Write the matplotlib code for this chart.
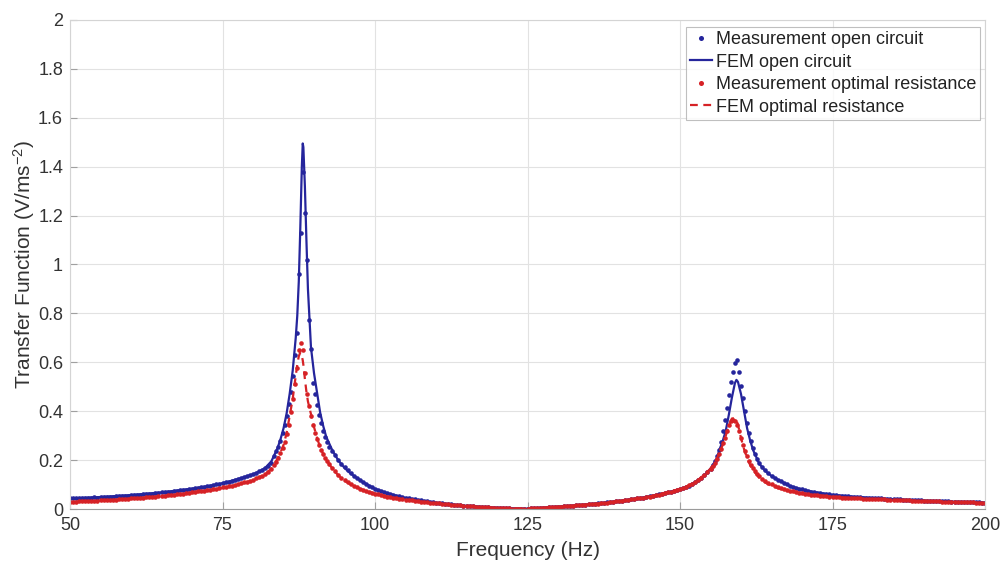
import matplotlib
matplotlib.use("Agg")
import matplotlib.pyplot as plt
from matplotlib.ticker import FormatStrFormatter

# ---- measured data (Hz, V/ms^-2) ----
f_meas = [
    50.0, 50.5, 51.0, 51.5, 52.0, 52.5, 53.0, 53.5, 54.0, 54.5,
    55.0, 55.5, 56.0, 56.5, 57.0, 57.5, 58.0, 58.5, 59.0, 59.5,
    60.0, 60.5, 61.0, 61.5, 62.0, 62.5, 63.0, 63.5, 64.0, 64.5,
    65.0, 65.5, 66.0, 66.5, 67.0, 67.5, 68.0, 68.5, 69.0, 69.5,
    70.0, 70.5, 71.0, 71.5, 72.0, 72.5, 73.0, 73.5, 74.0, 74.5,
    75.0, 75.5, 76.0, 76.5, 77.0, 77.5, 78.0, 78.5, 79.0, 79.5,
    80.0, 80.5, 81.0, 81.5, 82.0, 82.5, 83.0,
    83.5, 83.83, 84.17, 84.5, 84.83, 85.17, 85.5, 85.83, 86.17, 86.5,
    86.83, 87.17, 87.5, 87.83, 88.17, 88.5, 88.83, 89.17, 89.5, 89.83,
    90.17, 90.5, 90.83, 91.17, 91.5, 91.83, 92.17, 92.5,
    93.0, 93.5, 94.0, 94.5, 95.0, 95.5, 96.0, 96.5, 97.0, 97.5,
    98.0, 98.5, 99.0, 99.5, 100.0, 100.5, 101.0, 101.5, 102.0, 102.5,
    103.0, 103.5, 104.0, 104.5, 105.0, 105.5, 106.0, 106.5, 107.0, 107.5,
    108.0, 108.5, 109.0, 109.5, 110.0, 110.5, 111.0, 111.5, 112.0, 112.5,
    113.0, 113.5, 114.0, 114.5, 115.0, 115.5, 116.0, 116.5, 117.0, 117.5,
    118.0, 118.5, 119.0, 119.5, 120.0, 120.5, 121.0, 121.5, 122.0, 122.5,
    123.0, 123.5, 124.0, 124.5, 125.0, 125.5, 126.0, 126.5, 127.0, 127.5,
    128.0, 128.5, 129.0, 129.5, 130.0, 130.5, 131.0, 131.5, 132.0, 132.5,
    133.0, 133.5, 134.0, 134.5, 135.0, 135.5, 136.0, 136.5, 137.0, 137.5,
    138.0, 138.5, 139.0, 139.5, 140.0, 140.5, 141.0, 141.5, 142.0, 142.5,
    143.0, 143.5, 144.0, 144.5, 145.0, 145.5, 146.0, 146.5, 147.0, 147.5,
    148.0, 148.5, 149.0, 149.5, 150.0, 150.5, 151.0, 151.5, 152.0, 152.5,
    153.0, 153.5, 154.0, 154.5, 155.0,
    155.33, 155.67, 156.0, 156.33, 156.67, 157.0, 157.33, 157.67, 158.0, 158.33,
    158.67, 159.0, 159.33, 159.67, 160.0, 160.33, 160.67, 161.0, 161.33, 161.67,
    162.0, 162.33, 162.67,
    163.0, 163.5, 164.0, 164.5, 165.0, 165.5, 166.0, 166.5, 167.0, 167.5,
    168.0, 168.5, 169.0, 169.5, 170.0, 170.5, 171.0, 171.5, 172.0, 172.5,
    173.0, 173.5, 174.0, 174.5, 175.0, 175.5, 176.0, 176.5, 177.0, 177.5,
    178.0, 178.5, 179.0, 179.5, 180.0, 180.5, 181.0, 181.5, 182.0, 182.5,
    183.0, 183.5, 184.0, 184.5, 185.0, 185.5, 186.0, 186.5, 187.0, 187.5,
    188.0, 188.5, 189.0, 189.5, 190.0, 190.5, 191.0, 191.5, 192.0, 192.5,
    193.0, 193.5, 194.0, 194.5, 195.0, 195.5, 196.0, 196.5, 197.0, 197.5,
    198.0, 198.5, 199.0, 199.5, 200.0,
]

meas_open = [
    0.044, 0.045, 0.044, 0.045, 0.046, 0.045, 0.047, 0.046, 0.048, 0.047,
    0.049, 0.049, 0.050, 0.051, 0.051, 0.052, 0.053, 0.053, 0.055, 0.055,
    0.057, 0.057, 0.058, 0.059, 0.060, 0.061, 0.062, 0.063, 0.065, 0.066,
    0.068, 0.068, 0.070, 0.071, 0.073, 0.074, 0.076, 0.077, 0.079, 0.081,
    0.083, 0.085, 0.087, 0.089, 0.091, 0.093, 0.096, 0.098, 0.101, 0.103,
    0.106, 0.109, 0.112, 0.116, 0.119, 0.123, 0.127, 0.131, 0.135, 0.139,
    0.143, 0.148, 0.154, 0.160, 0.168, 0.177, 0.188,
    0.218, 0.236, 0.255, 0.280, 0.310, 0.345, 0.380, 0.430, 0.480, 0.545,
    0.630, 0.720, 0.960, 1.130, 1.380, 1.210, 1.020, 0.775, 0.655, 0.515,
    0.470, 0.425, 0.385, 0.350, 0.320, 0.295, 0.272, 0.255,
    0.238, 0.220, 0.200, 0.185, 0.170, 0.158, 0.146, 0.136, 0.127, 0.119,
    0.111, 0.104, 0.096, 0.090, 0.083, 0.079, 0.074, 0.070, 0.065, 0.062,
    0.058, 0.055, 0.052, 0.049, 0.046, 0.043, 0.041, 0.039, 0.036, 0.035,
    0.033, 0.031, 0.029, 0.027, 0.026, 0.024, 0.023, 0.021, 0.020, 0.019,
    0.018, 0.017, 0.015, 0.014, 0.013, 0.012, 0.011, 0.010, 0.009, 0.009,
    0.008, 0.007, 0.006, 0.006, 0.005, 0.004, 0.004, 0.003, 0.003, 0.002,
    0.002, 0.001, 0.001, 0.002, 0.002, 0.003, 0.003, 0.004, 0.005, 0.005,
    0.006, 0.007, 0.008, 0.009, 0.009, 0.010, 0.011, 0.012, 0.013, 0.014,
    0.015, 0.016, 0.017, 0.018, 0.019, 0.020, 0.022, 0.023, 0.024, 0.025,
    0.027, 0.028, 0.029, 0.031, 0.032, 0.034, 0.036, 0.037, 0.039, 0.041,
    0.043, 0.045, 0.047, 0.049, 0.052, 0.054, 0.057, 0.060, 0.062, 0.065,
    0.068, 0.071, 0.074, 0.077, 0.081, 0.085, 0.090, 0.096, 0.102, 0.110,
    0.118, 0.127, 0.138, 0.150, 0.164,
    0.178, 0.195, 0.215, 0.240, 0.275, 0.320, 0.365, 0.415, 0.465, 0.520,
    0.562, 0.598, 0.608, 0.560, 0.505, 0.455, 0.400, 0.352, 0.312, 0.278,
    0.250, 0.226, 0.206,
    0.188, 0.172, 0.158, 0.147, 0.137, 0.128, 0.120, 0.113, 0.106, 0.101,
    0.095, 0.091, 0.087, 0.083, 0.080, 0.077, 0.074, 0.071, 0.069, 0.067,
    0.065, 0.063, 0.061, 0.060, 0.058, 0.057, 0.055, 0.054, 0.053, 0.052,
    0.051, 0.050, 0.049, 0.048, 0.047, 0.046, 0.046, 0.045, 0.044, 0.043,
    0.043, 0.042, 0.041, 0.041, 0.040, 0.039, 0.039, 0.038, 0.038, 0.037,
    0.036, 0.036, 0.035, 0.035, 0.034, 0.034, 0.033, 0.033, 0.032, 0.032,
    0.031, 0.031, 0.031, 0.030, 0.030, 0.029, 0.029, 0.029, 0.028, 0.028,
    0.027, 0.027, 0.027, 0.026, 0.026,
]

meas_opt = [
    0.029, 0.030, 0.030, 0.031, 0.031, 0.032, 0.032, 0.033, 0.033, 0.034,
    0.035, 0.035, 0.036, 0.037, 0.038, 0.038, 0.039, 0.040, 0.041, 0.042,
    0.043, 0.044, 0.045, 0.046, 0.047, 0.048, 0.049, 0.050, 0.051, 0.052,
    0.053, 0.055, 0.056, 0.057, 0.059, 0.060, 0.062, 0.063, 0.065, 0.066,
    0.068, 0.070, 0.072, 0.073, 0.075, 0.077, 0.079, 0.081, 0.083, 0.086,
    0.088, 0.091, 0.093, 0.096, 0.099, 0.102, 0.105, 0.109, 0.112, 0.116,
    0.120, 0.125, 0.130, 0.136, 0.143, 0.152, 0.162,
    0.178, 0.192, 0.210, 0.228, 0.250, 0.275, 0.305, 0.345, 0.395, 0.450,
    0.510, 0.575, 0.650, 0.680, 0.650, 0.555, 0.470, 0.420, 0.380, 0.345,
    0.312, 0.285, 0.262, 0.242, 0.225, 0.210, 0.196, 0.184,
    0.168, 0.155, 0.140, 0.128, 0.118, 0.110, 0.102, 0.095, 0.089, 0.083,
    0.078, 0.074, 0.070, 0.066, 0.063, 0.060, 0.057, 0.054, 0.051, 0.049,
    0.047, 0.044, 0.042, 0.040, 0.038, 0.037, 0.035, 0.033, 0.032, 0.030,
    0.029, 0.028, 0.026, 0.025, 0.023, 0.023, 0.022, 0.020, 0.019, 0.018,
    0.017, 0.016, 0.015, 0.014, 0.013, 0.012, 0.011, 0.010, 0.009, 0.008,
    0.008, 0.007, 0.006, 0.006, 0.005, 0.004, 0.004, 0.003, 0.003, 0.002,
    0.002, 0.002, 0.001, 0.002, 0.002, 0.003, 0.003, 0.004, 0.004, 0.005,
    0.006, 0.007, 0.008, 0.008, 0.009, 0.010, 0.011, 0.012, 0.013, 0.014,
    0.015, 0.016, 0.017, 0.018, 0.019, 0.020, 0.021, 0.022, 0.024, 0.025,
    0.026, 0.028, 0.029, 0.031, 0.032, 0.034, 0.035, 0.037, 0.039, 0.041,
    0.043, 0.045, 0.047, 0.049, 0.051, 0.054, 0.056, 0.059, 0.062, 0.065,
    0.068, 0.071, 0.074, 0.078, 0.082, 0.086, 0.091, 0.097, 0.103, 0.111,
    0.119, 0.128, 0.139, 0.151, 0.164,
    0.176, 0.190, 0.206, 0.224, 0.245, 0.268, 0.292, 0.318, 0.342, 0.358,
    0.365, 0.360, 0.345, 0.318, 0.290, 0.262, 0.238, 0.215, 0.196, 0.180,
    0.166, 0.154, 0.143,
    0.133, 0.124, 0.116, 0.108, 0.102, 0.096, 0.091, 0.086, 0.082, 0.078,
    0.075, 0.072, 0.069, 0.067, 0.065, 0.063, 0.061, 0.059, 0.058, 0.056,
    0.055, 0.054, 0.052, 0.051, 0.050, 0.049, 0.048, 0.047, 0.047, 0.046,
    0.045, 0.044, 0.044, 0.043, 0.042, 0.042, 0.041, 0.041, 0.040, 0.040,
    0.039, 0.039, 0.038, 0.038, 0.037, 0.037, 0.036, 0.036, 0.035, 0.035,
    0.034, 0.034, 0.034, 0.033, 0.033, 0.032, 0.032, 0.031, 0.031, 0.031,
    0.030, 0.030, 0.030, 0.029, 0.029, 0.028, 0.028, 0.028, 0.027, 0.027,
    0.027, 0.026, 0.026, 0.026, 0.025,
]

# ---- FEM curves ----
f_fem = [
    50, 55, 60, 65, 70, 72, 74, 76, 78, 80,
    81, 82, 83, 84, 84.5, 85, 85.5, 86, 86.5, 87,
    87.25, 87.5, 87.75, 88, 88.15, 88.25, 88.5, 88.75, 89, 89.5,
    90, 90.5, 91, 91.5, 92, 93, 94, 95, 96, 98,
    100, 102, 104, 106, 108, 110, 113, 116, 119, 122,
    124, 126, 128, 131, 134, 137, 140, 142, 144, 146,
    148, 150, 151, 152, 153, 154, 155, 156, 156.5, 157,
    157.5, 158, 158.5, 159, 159.25, 159.5, 160, 160.5, 161, 161.5,
    162, 163, 164, 165, 166, 168, 170, 172, 175, 178,
    181, 185, 190, 195, 200,
]

fem_open = [
    0.043, 0.049, 0.057, 0.068, 0.083, 0.091, 0.100, 0.112, 0.126, 0.142,
    0.153, 0.168, 0.195, 0.248, 0.285, 0.330, 0.390, 0.470, 0.565, 0.700,
    0.790, 0.930, 1.150, 1.400, 1.495, 1.480, 1.320, 1.100, 0.900, 0.660,
    0.555, 0.475, 0.395, 0.340, 0.295, 0.240, 0.198, 0.168, 0.145, 0.110,
    0.082, 0.064, 0.051, 0.040, 0.032, 0.025, 0.017, 0.011, 0.006, 0.003,
    0.001, 0.003, 0.006, 0.011, 0.017, 0.024, 0.032, 0.039, 0.047, 0.057,
    0.068, 0.080, 0.090, 0.102, 0.118, 0.138, 0.165, 0.205, 0.245, 0.278,
    0.320, 0.385, 0.455, 0.515, 0.528, 0.520, 0.470, 0.400, 0.330, 0.280,
    0.240, 0.185, 0.155, 0.135, 0.120, 0.094, 0.079, 0.069, 0.058, 0.051,
    0.046, 0.040, 0.034, 0.030, 0.026,
]

fem_opt = [
    0.028, 0.034, 0.042, 0.052, 0.066, 0.073, 0.081, 0.091, 0.103, 0.118,
    0.129, 0.143, 0.165, 0.205, 0.232, 0.262, 0.310, 0.380, 0.450, 0.545,
    0.590, 0.625, 0.640, 0.625, 0.608, 0.590, 0.532, 0.480, 0.440, 0.388,
    0.335, 0.290, 0.253, 0.225, 0.202, 0.165, 0.137, 0.116, 0.100, 0.078,
    0.063, 0.051, 0.042, 0.035, 0.029, 0.023, 0.016, 0.010, 0.006, 0.003,
    0.002, 0.003, 0.006, 0.011, 0.017, 0.024, 0.032, 0.039, 0.047, 0.057,
    0.069, 0.082, 0.092, 0.104, 0.120, 0.140, 0.165, 0.205, 0.232, 0.262,
    0.300, 0.340, 0.370, 0.372, 0.362, 0.345, 0.290, 0.245, 0.208, 0.180,
    0.158, 0.128, 0.108, 0.095, 0.086, 0.073, 0.064, 0.058, 0.050, 0.045,
    0.041, 0.037, 0.033, 0.029, 0.025,
]

x_ticks = [50, 75, 100, 125, 150, 175, 200]
y_ticks = [0, 0.2, 0.4, 0.6, 0.8, 1.0, 1.2, 1.4, 1.6, 1.8, 2.0]

blue = "#25259c"
red = "#d62226"
txt = "#333333"

plt.rcParams["font.family"] = ["Liberation Sans", "DejaVu Sans"]
plt.rcParams["mathtext.fontset"] = "custom"
plt.rcParams["mathtext.rm"] = "Liberation Sans"
plt.rcParams["mathtext.it"] = "Liberation Sans"
plt.rcParams["mathtext.default"] = "regular"

fig = plt.figure(figsize=(10.05, 5.66), dpi=100)
ax = fig.add_axes([0.0697, 0.1007, 0.9104, 0.864])

ax.plot(f_meas, meas_open, linestyle="none", marker="o", markersize=3.3,
        markeredgewidth=0, color=blue, label="Measurement open circuit")
ax.plot(f_fem, fem_open, "-", color=blue, linewidth=1.6, label="FEM open circuit")
ax.plot(f_meas, meas_opt, linestyle="none", marker="o", markersize=3.3,
        markeredgewidth=0, color=red, label="Measurement optimal resistance")
ax.plot(f_fem, fem_opt, "--", color=red, linewidth=1.6, dashes=(3.5, 2.5),
        label="FEM optimal resistance")

ax.set_xlim(50, 200)
ax.set_ylim(0, 2)
ax.set_xticks(x_ticks)
ax.set_yticks(y_ticks)
ax.yaxis.set_major_formatter(FormatStrFormatter("%g"))
ax.grid(True, color="#e2e2e2", linewidth=0.8)
ax.set_axisbelow(True)

for side in ["top", "right", "left"]:
    ax.spines[side].set_color("#d4d4d4")
ax.spines["bottom"].set_color("#9a9a9a")
for s in ax.spines.values():
    s.set_linewidth(0.8)
ax.tick_params(direction="in", length=5, width=0.8, color="#a0a0a0",
               labelsize=13, labelcolor=txt, top=False, right=False)
ax.tick_params(axis="x", pad=6)
ax.tick_params(axis="y", pad=5)

ax.set_xlabel("Frequency (Hz)", fontsize=15, color=txt, labelpad=5)
ax.set_ylabel("Transfer Function (V/ms$^{-2}$)", fontsize=15, color=txt, labelpad=1)

leg = ax.legend(loc="upper right", bbox_to_anchor=(0.995, 0.986), fontsize=13,
                frameon=True, fancybox=False, edgecolor="#b0b0b0",
                handlelength=1.2, handletextpad=0.2, labelspacing=0.3,
                borderpad=0.25, borderaxespad=0.0, numpoints=1, markerscale=1.1)
leg.get_frame().set_linewidth(0.8)
for t in leg.get_texts():
    t.set_color("#222222")

fig.savefig("out.png", dpi=100)
